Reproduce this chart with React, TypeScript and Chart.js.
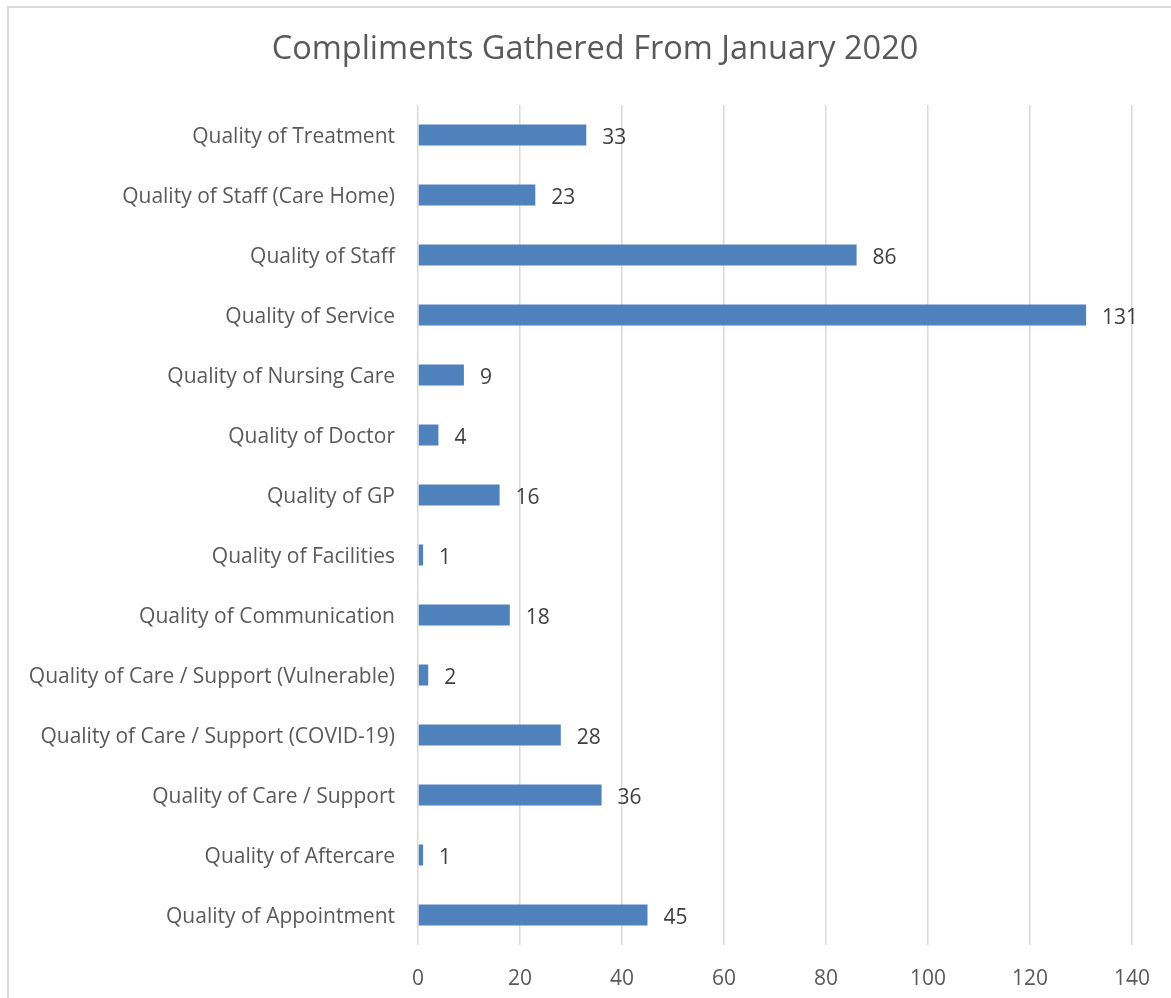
import React, { useEffect, useRef } from "react";
import { Chart, registerables } from "chart.js";

Chart.register(...registerables);

const categories: string[] = [
  "Quality of Treatment",
  "Quality of Staff (Care Home)",
  "Quality of Staff",
  "Quality of Service",
  "Quality of Nursing Care",
  "Quality of Doctor",
  "Quality of GP",
  "Quality of Facilities",
  "Quality of Communication",
  "Quality of Care / Support (Vulnerable)",
  "Quality of Care / Support (COVID-19)",
  "Quality of Care / Support",
  "Quality of Aftercare",
  "Quality of Appointment",
];

const compliments: number[] = [33, 23, 86, 131, 9, 4, 16, 1, 18, 2, 28, 36, 1, 45];

const xTicksMin = 0;
const xTicksMax = 140;
const xTicksStep = 20;

const titleText = "Compliments Gathered From January 2020";

const FONT = "'Open Sans', Lato, sans-serif";

const valueLabels = {
  id: "valueLabels",
  afterDatasetsDraw(chart: any) {
    const ctx = chart.ctx;
    const meta = chart.getDatasetMeta(0);
    ctx.save();
    ctx.font = `21px ${FONT}`;
    ctx.fillStyle = "#404040";
    ctx.textAlign = "left";
    ctx.textBaseline = "middle";
    meta.data.forEach((bar: any, i: number) => {
      const v = chart.data.datasets[0].data[i];
      ctx.fillText(String(v), bar.x + 16, bar.y + 3);
    });
    ctx.restore();
  },
};

const centeredTitle = {
  id: "centeredTitle",
  afterDraw(chart: any) {
    const ctx = chart.ctx;
    ctx.save();
    ctx.font = `32.5px ${FONT}`;
    ctx.fillStyle = "#595959";
    ctx.textAlign = "center";
    ctx.textBaseline = "middle";
    ctx.fillText(titleText, chart.width / 2, 42);
    ctx.restore();
  },
};

export default function App() {
  const ref = useRef<HTMLCanvasElement | null>(null);

  useEffect(() => {
    if (!ref.current) return;
    const chart = new Chart(ref.current, {
      type: "bar",
      data: {
        labels: categories,
        datasets: [
          {
            data: compliments,
            backgroundColor: "#4f81bd",
            borderWidth: 0,
            barPercentage: 0.35,
            categoryPercentage: 1,
          },
        ],
      },
      options: {
        indexAxis: "y",
        animation: false,
        responsive: false,
        maintainAspectRatio: false,
        layout: { padding: { left: 0, right: 49, top: 97, bottom: 0 } },
        plugins: {
          legend: { display: false },
          tooltip: { enabled: false },
          title: { display: false },
        },
        scales: {
          x: {
            min: xTicksMin,
            max: xTicksMax,
            ticks: {
              stepSize: xTicksStep,
              color: "#595959",
              font: { family: FONT, size: 21 },
              padding: 21,
            },
            grid: { color: "#d9d9d9", lineWidth: 1.5, drawTicks: false },
            border: { display: false },
            afterFit(scale: any) {
              scale.height = 53;
            },
          },
          y: {
            ticks: {
              color: "#595959",
              font: { family: FONT, size: 21 },
              padding: 23,
              labelOffset: 2,
            },
            grid: { display: false, drawTicks: false },
            border: { display: false },
            afterFit(scale: any) {
              scale.width = 409;
            },
          },
        },
      },
      plugins: [valueLabels, centeredTitle],
    });
    return () => chart.destroy();
  }, []);

  return (
    <div
      style={{
        position: "fixed",
        left: 7,
        top: 6,
        width: 1200,
        height: 1020,
        borderLeft: "2px solid #d9d9d9",
        borderTop: "2px solid #d9d9d9",
        boxSizing: "border-box",
        background: "#fff",
        overflow: "hidden",
      }}
    >
      <canvas
        ref={ref}
        width={1172}
        height={990}
        style={{ position: "absolute", left: 0, top: 0, width: 1172, height: 990 }}
      />
    </div>
  );
}
